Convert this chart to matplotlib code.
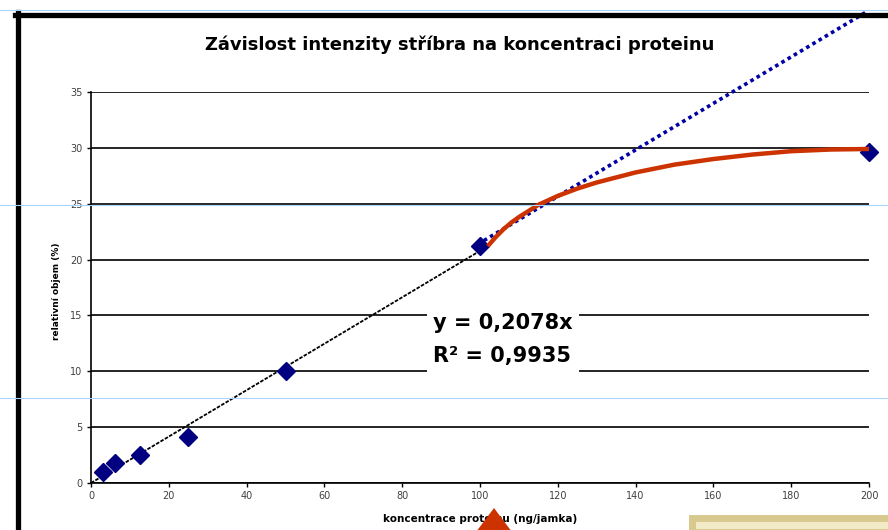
import matplotlib
matplotlib.use("Agg")
import numpy as np
import matplotlib.pyplot as plt
from matplotlib.lines import Line2D
from matplotlib.patches import Rectangle, Polygon

# measured data (ng/jamka vs relativni objem %)
conc = [3.125, 6.25, 12.5, 25, 50, 100, 200]
volume = [1.0, 1.8, 2.5, 4.1, 10.0, 21.2, 29.6]

slope = 0.2078
trend_x = np.array([0, 101])

# hand drawn extension of the line (blue) and saturation curve (red)
ext_x = [101, 199]
ext_y = [21.7, 42.1]
sat_x = [102, 104, 106, 108, 110, 115, 120, 125, 130, 140, 150, 160, 170, 180, 190, 200]
sat_y = [21.2, 22.0, 22.7, 23.3, 23.8, 24.9, 25.7, 26.35, 26.9, 27.8, 28.5, 29.0, 29.4, 29.7, 29.85, 29.9]

x_ticks = list(range(0, 201, 20))
y_ticks = list(range(0, 36, 5))

W, H = 888, 530


def fx(px):
    return px / W


def fy(py):
    return 1 - py / H


fig = plt.figure(figsize=(W / 100, H / 100), dpi=100)
ax = fig.add_axes([fx(91), fy(483), fx(869) - fx(91), fy(92) - fy(483)])

ax.set_xlim(0, 200)
ax.set_ylim(0, 35)
ax.set_xticks(x_ticks)
ax.set_yticks(y_ticks)
ax.tick_params(direction="out", length=3, width=1, color="black",
               labelsize=7, labelcolor="#404040", pad=3)
ax.yaxis.grid(True, color="black", lw=1.2)
ax.set_axisbelow(True)
for s in ["top", "right"]:
    ax.spines[s].set_visible(False)
for s in ["left", "bottom"]:
    ax.spines[s].set_linewidth(1.2)

ax.plot(trend_x, slope * trend_x, color="black", lw=1.3, ls=(0, (2, 0.8)), zorder=3)
ax.plot(ext_x, ext_y, color="#0000A8", lw=2.6, ls=(0, (1, 1)), clip_on=False, zorder=4)
ax.plot(conc, volume, ls="none", marker="D", ms=9, color="#000080",
        clip_on=False, zorder=5)
ax.plot(sat_x, sat_y, color="#CC3300", lw=3.2, solid_capstyle="butt",
        clip_on=False, zorder=6)

ax.text(88, 12.85, "y = 0,2078x\nR² = 0,9935", fontsize=15, fontweight="bold",
        va="center", ha="left", linespacing=1.8, zorder=7,
        bbox=dict(facecolor="white", edgecolor="none", pad=4.5))

ax.set_xlabel("koncentrace proteinu (ng/jamka)", fontsize=7.5, fontweight="bold")
ax.xaxis.set_label_coords(0.5, -0.08)
ax.set_ylabel("relativní objem (%)", fontsize=6.5, fontweight="bold")
ax.yaxis.set_label_coords(-0.038, 0.49)

fig.text(fx(460), fy(45), "Závislost intenzity stříbra na koncentraci proteinu",
         fontsize=13, fontweight="bold", ha="center", va="center")

# slide frame
fig.add_artist(Line2D([fx(17.5), fx(17.5)], [fy(12), fy(540)], color="black", lw=3.8))
fig.add_artist(Line2D([fx(15), fx(900)], [fy(14.5), fy(14.5)], color="black", lw=3.8))

# slide guides
for gy in [10, 204.5, 398]:
    fig.add_artist(Line2D([0, 1], [fy(gy), fy(gy)], color="#A8D4FF", lw=0.8, zorder=8))

# red arrow and beige box from the slide
fig.patches.append(Polygon([[fx(494), fy(508)], [fx(476), fy(532)], [fx(512), fy(532)]],
                           closed=True, transform=fig.transFigure,
                           facecolor="#CC3300", edgecolor="none", zorder=9))
fig.patches.append(Rectangle((fx(692), fy(532)), fx(200), fy(518) - fy(532),
                             transform=fig.transFigure, facecolor="#F3EBC8",
                             edgecolor="#D8C98E", lw=5, zorder=9))

fig.savefig("out.png", dpi=100)
